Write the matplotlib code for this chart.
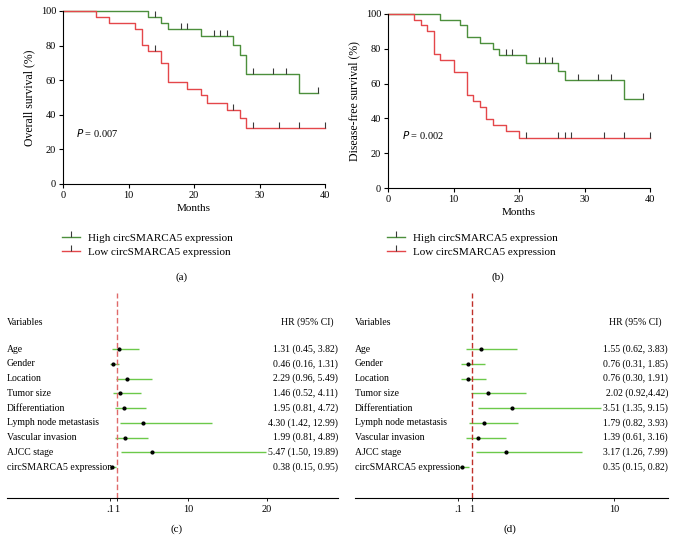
import numpy as np
import matplotlib
matplotlib.use("Agg")
import matplotlib.pyplot as plt
from matplotlib.lines import Line2D

plt.rcParams['font.family'] = ['Liberation Serif', 'DejaVu Serif']

# --- Kaplan-Meier data ---
# (a) overall survival
os_high_t = [0, 13, 15, 16, 21, 26, 27, 28, 36, 39]
os_high_s = [100, 96.6, 93.1, 89.7, 85.6, 80.2, 74.8, 63.4, 52.6, 52.6]
os_high_cens = [14, 18, 19, 23, 24, 25, 29, 32, 34, 39]
os_low_t = [0, 5, 7, 11, 12, 13, 15, 16, 19, 21, 22, 25, 27, 28, 40]
os_low_s = [100, 96.7, 93.3, 89.8, 80.2, 76.8, 69.9, 58.9, 55.1, 51.2, 46.8, 42.6, 38.0, 32.6, 32.6]
os_low_cens = [14, 26, 29, 33, 36, 40]

# (b) disease-free survival
dfs_high_t = [0, 8, 11, 12, 14, 16, 17, 21, 26, 27, 36, 39]
dfs_high_s = [100, 96.7, 93.4, 86.7, 83.5, 80.0, 76.4, 72.0, 67.0, 61.8, 51.4, 51.4]
dfs_high_cens = [18, 19, 23, 24, 25, 29, 32, 34, 39]
dfs_low_t = [0, 4, 5, 6, 7, 8, 10, 12, 13, 14, 15, 16, 18, 20, 40]
dfs_low_s = [100, 96.7, 93.5, 90.0, 77.0, 73.5, 66.8, 53.4, 50.1, 46.6, 39.5, 36.0, 32.5, 28.8, 28.8]
dfs_low_cens = [21, 26, 27, 28, 33, 36, 40]

# --- forest plot data ---
variables = ['Age', 'Gender', 'Location', 'Tumor size', 'Differentiation',
             'Lymph node metastasis', 'Vascular invasion', 'AJCC stage',
             'circSMARCA5 expression']
c_hr = [1.31, 0.46, 2.29, 1.46, 1.95, 4.30, 1.99, 5.47, 0.38]
c_lo = [0.45, 0.16, 0.96, 0.52, 0.81, 1.42, 0.81, 1.50, 0.15]
c_hi = [3.82, 1.31, 5.49, 4.11, 4.72, 12.99, 4.89, 19.89, 0.95]
c_txt = ['1.31 (0.45, 3.82)', '0.46 (0.16, 1.31)', '2.29 (0.96, 5.49)',
         '1.46 (0.52, 4.11)', '1.95 (0.81, 4.72)', '4.30 (1.42, 12.99)',
         '1.99 (0.81, 4.89)', '5.47 (1.50, 19.89)', '0.38 (0.15, 0.95)']
d_hr = [1.55, 0.76, 0.76, 2.02, 3.51, 1.79, 1.39, 3.17, 0.35]
d_lo = [0.62, 0.31, 0.30, 0.92, 1.35, 0.82, 0.61, 1.26, 0.15]
d_hi = [3.83, 1.85, 1.91, 4.42, 9.15, 3.93, 3.16, 7.99, 0.82]
d_txt = ['1.55 (0.62, 3.83)', '0.76 (0.31, 1.85)', '0.76 (0.30, 1.91)',
         '2.02 (0.92,4.42)', '3.51 (1.35, 9.15)', '1.79 (0.82, 3.93)',
         '1.39 (0.61, 3.16)', '3.17 (1.26, 7.99)', '0.35 (0.15, 0.82)']
c_ticks = [0.1, 1, 10, 20]
c_ticklabels = ['.1', '1', '10', '20']
d_ticks = [0.1, 1, 10]
d_ticklabels = ['.1', '1', '10']

GREEN = '#4c8f3c'
RED = '#e4474a'
TICKC = '#3a3a3a'
W, H = 675, 552

fig = plt.figure(figsize=(W / 100, H / 100), dpi=100)


def box(l, t, r, b):
    return [l / W, 1 - b / H, (r - l) / W, (b - t) / H]


def km(ax, t, s, cens, color):
    ax.step(t, s, where='post', color=color, lw=1, clip_on=False)
    idx = np.searchsorted(t, cens, side='right') - 1
    ax.plot(cens, np.array(s)[idx], ls='none', marker=2, ms=4, mew=0.8,
            color=TICKC, clip_on=False)


def km_panel(rect, high, low, ylabel, ptxt, pxy, leg_xy, cap, cap_xy):
    ax = fig.add_axes(rect)
    km(ax, *high, GREEN)
    km(ax, *low, RED)
    ax.set_xlim(0, 40)
    ax.set_ylim(0, 100)
    ax.set_xticks([0, 10, 20, 30, 40])
    ax.set_yticks([0, 20, 40, 60, 80, 100])
    for sp in ['top', 'right']:
        ax.spines[sp].set_visible(False)
    ax.tick_params(labelsize=7.5, length=3, width=0.8, pad=2)
    ax.set_xlabel('Months', fontsize=8, labelpad=3)
    ax.set_ylabel(ylabel, fontsize=8.5, labelpad=4)
    ax.text(pxy[0], pxy[1], ptxt, fontsize=7.5)
    handles = [Line2D([0], [0], color=GREEN, lw=1, marker=2, ms=4, mew=0.8, mec=TICKC),
               Line2D([0], [0], color=RED, lw=1, marker=2, ms=4, mew=0.8, mec=TICKC)]
    ax.legend(handles, ['High circSMARCA5 expression', 'Low circSMARCA5 expression'],
              loc='upper left', bbox_to_anchor=(leg_xy[0] / W, 1 - leg_xy[1] / H),
              bbox_transform=fig.transFigure, frameon=False, fontsize=8,
              numpoints=1, handlelength=1.6, handletextpad=0.7,
              borderpad=0, borderaxespad=0, labelspacing=0.4)
    fig.text(cap_xy[0] / W, 1 - cap_xy[1] / H, cap, ha='center', va='center', fontsize=8)
    return ax


km_panel(box(63, 11, 325, 184), (os_high_t, os_high_s, os_high_cens),
         (os_low_t, os_low_s, os_low_cens), 'Overall survival (%)',
         r'$P$ = 0.007', (2, 27), (62, 233), '(a)', (182, 277))
km_panel(box(388, 14, 650, 188), (dfs_high_t, dfs_high_s, dfs_high_cens),
         (dfs_low_t, dfs_low_s, dfs_low_cens), 'Disease-free survival (%)',
         r'$P$ = 0.002', (2.2, 28), (387, 233), '(b)', (498, 277))


def forest_panel(rect, hr, lo, hi, txt, xlim, ticks, ticklabels, dash_color,
                 head_x, cap, cap_xy):
    ax = fig.add_axes(rect)
    rows = np.arange(len(variables))
    ax.hlines(rows, lo, hi, color='#6cc94a', lw=1)
    ax.plot(hr, rows, 'o', color='black', ms=2)
    ax.axvline(1, ls=(0, (4, 2)), color=dash_color, lw=1)
    ax.set_xlim(*xlim)
    ax.set_ylim(10.1, -3.8)
    ax.set_yticks([])
    ax.set_xticks(ticks)
    ax.set_xticklabels(ticklabels)
    for sp in ['top', 'right', 'left']:
        ax.spines[sp].set_visible(False)
    ax.spines['bottom'].set_linewidth(0.8)
    ax.tick_params(axis='x', labelsize=7.5, length=2, width=0.6, pad=3)
    tr = ax.get_yaxis_transform()
    ax.text(0, -1.8, 'Variables', transform=tr, fontsize=7, va='center')
    ax.text(head_x, -1.8, 'HR (95% CI)', transform=tr, fontsize=7, va='center', ha='center')
    for i, name in enumerate(variables):
        ax.text(0, i, name, transform=tr, fontsize=7, va='center')
        ax.text(1, i, txt[i], transform=tr, fontsize=7, va='center', ha='right')
    fig.text(cap_xy[0] / W, 1 - cap_xy[1] / H, cap, ha='center', va='center', fontsize=8)
    return ax


forest_panel(box(7, 293, 338, 498), c_hr, c_lo, c_hi, c_txt, (-12.9, 29.0),
             c_ticks, c_ticklabels, '#e06a6a', 0.906, '(c)', (177, 529))
forest_panel(box(355, 293, 668, 498), d_hr, d_lo, d_hi, d_txt, (-6.4, 13.4),
             d_ticks, d_ticklabels, '#c0302a', 0.895, '(d)', (510, 529))

fig.savefig('out.png', dpi=100)
